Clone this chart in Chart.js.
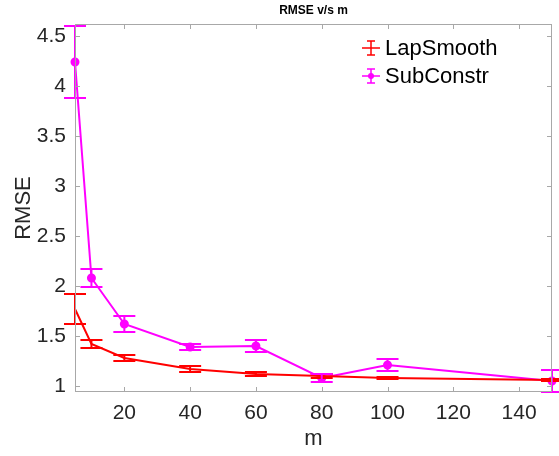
<!DOCTYPE html>
<html>
<head>
<meta charset="utf-8">
<script src="https://cdn.jsdelivr.net/npm/chart.js@4/dist/chart.umd.min.js"></script>
<style>
  html, body { margin: 0; padding: 0; background: #fff; }
  #wrap { width: 559px; height: 456px; }
</style>
</head>
<body>
<div id="wrap"><canvas id="c"></canvas></div>
<script>
const mValues = [5, 10, 20, 40, 60, 80, 100, 150];
const lapSmooth = [1.77, 1.42, 1.28, 1.17, 1.12, 1.10, 1.08, 1.06];
const lapSmoothErr = [0.15, 0.04, 0.03, 0.03, 0.02, 0.02, 0.01, 0.01];
const subConstr = [4.24, 2.08, 1.62, 1.39, 1.40, 1.08, 1.21, 1.05];
const subConstrErr = [0.36, 0.09, 0.08, 0.03, 0.06, 0.04, 0.06, 0.11];
const xTicks = [20, 40, 60, 80, 100, 120, 140];
const yTicks = [1, 1.5, 2, 2.5, 3, 3.5, 4, 4.5];

const FONT = '"Liberation Sans", Arial, Helvetica, sans-serif';
const TXT = '#262626';
const AXIS = '#a8a8a8';

const series = [
    {label: 'LapSmooth', values: lapSmooth, err: lapSmoothErr, color: '#ff0000', dot: false},
    {label: 'SubConstr', values: subConstr, err: subConstrErr, color: '#ff00ff', dot: true}
];

// error bars, box, inward ticks, title and legend
const matlabLook = {
    id: 'matlabLook',
    afterDatasetsDraw(chart) {
        const ctx = chart.ctx;
        const xs = chart.scales.x, ys = chart.scales.y;
        ctx.save();
        series.forEach(s => {
            ctx.strokeStyle = s.color;
            ctx.lineWidth = 2;
            s.values.forEach((v, i) => {
                const px = xs.getPixelForValue(mValues[i]);
                const top = ys.getPixelForValue(v + s.err[i]);
                const bot = ys.getPixelForValue(v - s.err[i]);
                ctx.beginPath();
                ctx.moveTo(px, top); ctx.lineTo(px, bot);
                ctx.moveTo(px - 11, top); ctx.lineTo(px + 11, top);
                ctx.moveTo(px - 11, bot); ctx.lineTo(px + 11, bot);
                ctx.stroke();
            });
        });
        ctx.restore();
    },
    afterDraw(chart) {
        const ctx = chart.ctx;
        const a = chart.chartArea;
        const xs = chart.scales.x, ys = chart.scales.y;
        ctx.save();
        ctx.strokeStyle = AXIS;
        ctx.lineWidth = 1;
        ctx.strokeRect(a.left + 0.5, a.top + 0.5, a.right - a.left - 1, a.bottom - a.top - 1);
        ctx.beginPath();
        xTicks.forEach(t => {
            const px = Math.round(xs.getPixelForValue(t)) + 0.5;
            ctx.moveTo(px, a.bottom); ctx.lineTo(px, a.bottom - 5);
            ctx.moveTo(px, a.top); ctx.lineTo(px, a.top + 5);
        });
        yTicks.forEach(t => {
            const py = Math.round(ys.getPixelForValue(t)) + 0.5;
            ctx.moveTo(a.left, py); ctx.lineTo(a.left + 5, py);
            ctx.moveTo(a.right, py); ctx.lineTo(a.right - 5, py);
        });
        ctx.stroke();

        // title
        ctx.fillStyle = '#000';
        ctx.font = 'bold 12px ' + FONT;
        ctx.textAlign = 'center';
        ctx.textBaseline = 'middle';
        ctx.fillText('RMSE v/s m', (a.left + a.right) / 2, 11);

        // legend
        ctx.textAlign = 'left';
        ctx.font = '22px ' + FONT;
        series.forEach((s, i) => {
            const y = 48 + i * 28;
            ctx.strokeStyle = s.color;
            ctx.lineWidth = 1.5;
            ctx.beginPath();
            ctx.moveTo(362, y); ctx.lineTo(380, y);
            ctx.moveTo(371, y - 7); ctx.lineTo(371, y + 7);
            ctx.moveTo(367, y - 7); ctx.lineTo(375, y - 7);
            ctx.moveTo(367, y + 7); ctx.lineTo(375, y + 7);
            ctx.stroke();
            if (s.dot) {
                ctx.fillStyle = s.color;
                ctx.beginPath();
                ctx.arc(371, y, 3, 0, Math.PI * 2);
                ctx.fill();
            }
            ctx.fillStyle = '#000';
            ctx.fillText(s.label, 385, y + 1);
        });
        ctx.restore();
    }
};

new Chart(document.getElementById('c'), {
    type: 'line',
    data: {
        datasets: series.map(s => ({
            label: s.label,
            data: mValues.map((m, i) => ({x: m, y: s.values[i]})),
            borderColor: s.color,
            backgroundColor: s.color,
            borderWidth: 2,
            pointRadius: s.dot ? 3.5 : 0,
            pointStyle: 'circle',
            tension: 0,
            clip: false
        }))
    },
    options: {
        responsive: true,
        maintainAspectRatio: false,
        animation: false,
        devicePixelRatio: 1,
        layout: {padding: {top: 24, right: 7, left: 0, bottom: 0}},
        plugins: {legend: {display: false}, title: {display: false}, tooltip: {enabled: false}},
        scales: {
            x: {
                type: 'linear',
                min: 5,
                max: 150,
                afterBuildTicks: sc => { sc.ticks = xTicks.map(v => ({value: v})); },
                afterFit: sc => { sc.height = 64; },
                grid: {display: false, drawTicks: false},
                border: {display: false},
                ticks: {color: TXT, font: {family: FONT, size: 21}, padding: 9, maxRotation: 0},
                title: {display: true, text: 'm', color: TXT, font: {family: FONT, size: 22}, padding: {top: 0, bottom: 4}}
            },
            y: {
                type: 'linear',
                min: 0.94,
                max: 4.62,
                afterBuildTicks: sc => { sc.ticks = yTicks.map(v => ({value: v})); },
                afterFit: sc => { sc.width = 75; },
                grid: {display: false, drawTicks: false},
                border: {display: false},
                ticks: {color: TXT, font: {family: FONT, size: 21}, padding: 9, callback: v => String(v)},
                title: {display: true, text: 'RMSE', color: TXT, font: {family: FONT, size: 22}, padding: {top: 11, bottom: 0}}
            }
        }
    },
    plugins: [matlabLook]
});
</script>
</body>
</html>
